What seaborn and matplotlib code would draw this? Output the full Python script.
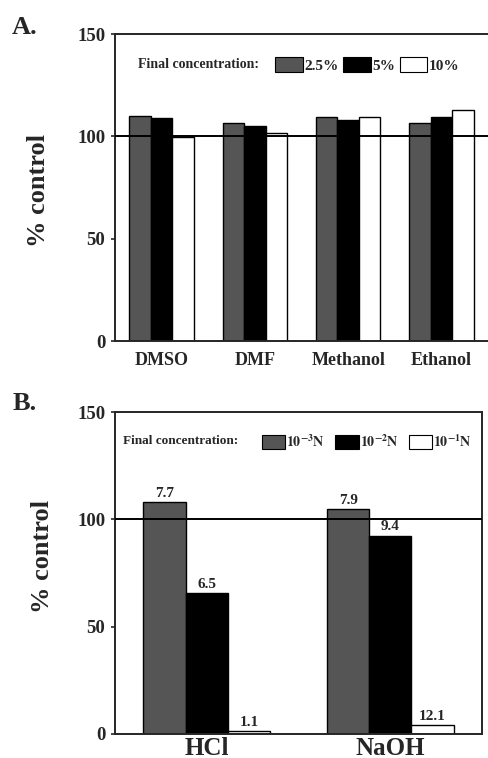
import pandas as pd
import matplotlib
matplotlib.use("Agg")
import matplotlib.pyplot as plt
from matplotlib.patches import Patch
import seaborn as sns

# panel A: organic solvents
solvents = ["DMSO", "DMF", "Methanol", "Ethanol"]
conc_a = ["2.5%", "5%", "10%"]
vals_a_25 = [110.0, 106.4, 109.6, 106.5]
vals_a_5 = [109.2, 105.3, 107.8, 109.5]
vals_a_10 = [99.6, 101.8, 109.4, 113.0]

# panel B: acid / base
agents = ["HCl", "NaOH"]
conc_b = [r"$\mathbf{10^{-3}N}$", r"$\mathbf{10^{-2}N}$", r"$\mathbf{10^{-1}N}$"]
vals_b_3 = [108.0, 105.0]
vals_b_2 = [65.6, 92.5]
vals_b_1 = [1.2, 4.0]
err_b_3 = ["7.7", "7.9"]
err_b_2 = ["6.5", "9.4"]
err_b_1 = ["1.1", "12.1"]

colors = ["#555555", "#000000", "#ffffff"]

sns.set_style("ticks")
plt.rcParams["font.family"] = ["Liberation Serif", "DejaVu Serif"]
plt.rcParams["font.weight"] = "bold"
plt.rcParams["mathtext.fontset"] = "stix"

df_a = pd.DataFrame({
    "solvent": solvents * 3,
    "conc": [c for c in conc_a for _ in solvents],
    "value": vals_a_25 + vals_a_5 + vals_a_10,
})
df_b = pd.DataFrame({
    "agent": agents * 3,
    "conc": [c for c in conc_b for _ in agents],
    "value": vals_b_3 + vals_b_2 + vals_b_1,
})

fig = plt.figure(figsize=(4.89, 7.58), dpi=100)
ax_a = fig.add_axes([0.235, 0.550, 0.763, 0.405])
ax_b = fig.add_axes([0.235, 0.032, 0.751, 0.424])


def style_axis(ax):
    ax.set_ylim(0, 150)
    ax.set_yticks([0, 50, 100, 150])
    ax.axhline(100, color="black", lw=1.4, zorder=3)
    ax.set_xlabel("")
    ax.set_ylabel("% control", fontsize=19, fontweight="bold")
    ax.tick_params(axis="y", labelsize=13.5, length=3, width=1.2, pad=4)
    ax.tick_params(axis="x", labelsize=13, length=0, pad=8)
    for lab in ax.get_xticklabels() + ax.get_yticklabels():
        lab.set_fontweight("bold")
    for s in ax.spines.values():
        s.set_linewidth(1.4)


# ---- A ----
sns.barplot(data=df_a, x="solvent", y="value", hue="conc", palette=colors,
            width=0.69, edgecolor="black", linewidth=1.0, legend=False,
            errorbar=None, ax=ax_a)
ax_a.set_xlim(-0.5, 3.5)
style_axis(ax_a)
ax_a.spines["right"].set_visible(False)
ax_a.yaxis.set_label_coords(-0.175, 0.49)

handles_a = [Patch(facecolor=c, edgecolor="black", lw=0.8) for c in colors]
ax_a.text(0.062, 0.90, "Final concentration:", transform=ax_a.transAxes,
          fontsize=10, fontweight="bold", va="center", ha="left")
ax_a.legend(handles_a, conc_a, loc="center left", bbox_to_anchor=(0.43, 0.90),
            ncol=3, frameon=False, fontsize=11, handlelength=1.8,
            handleheight=1.2, handletextpad=0.1, columnspacing=0.3,
            borderpad=0, borderaxespad=0)

# ---- B ----
sns.barplot(data=df_b, x="agent", y="value", hue="conc", palette=colors,
            width=0.69, edgecolor="black", linewidth=1.0, legend=False,
            errorbar=None, ax=ax_b)
ax_b.set_xlim(-0.5, 1.5)
style_axis(ax_b)
ax_b.tick_params(axis="x", labelsize=18, pad=2)
ax_b.yaxis.set_label_coords(-0.165, 0.55)

for cont, labs in zip(ax_b.containers, [err_b_3, err_b_2, err_b_1]):
    ax_b.bar_label(cont, labels=labs, padding=1.5, fontsize=11, fontweight="bold")

handles_b = [Patch(facecolor=c, edgecolor="black", lw=0.8) for c in colors]
ax_b.text(0.022, 0.91, "Final concentration:", transform=ax_b.transAxes,
          fontsize=9.5, fontweight="bold", va="center", ha="left")
ax_b.legend(handles_b, conc_b, loc="center left", bbox_to_anchor=(0.40, 0.91),
            ncol=3, frameon=False, fontsize=10, handlelength=1.7,
            handleheight=1.2, handletextpad=0.05, columnspacing=0.75,
            borderpad=0, borderaxespad=0)

fig.text(0.025, 1 - 27 / 758, "A.", fontsize=19, fontweight="bold", va="center")
fig.text(0.025, 1 - 403 / 758, "B.", fontsize=19, fontweight="bold", va="center")

fig.savefig("out.png", dpi=100, facecolor="white")
